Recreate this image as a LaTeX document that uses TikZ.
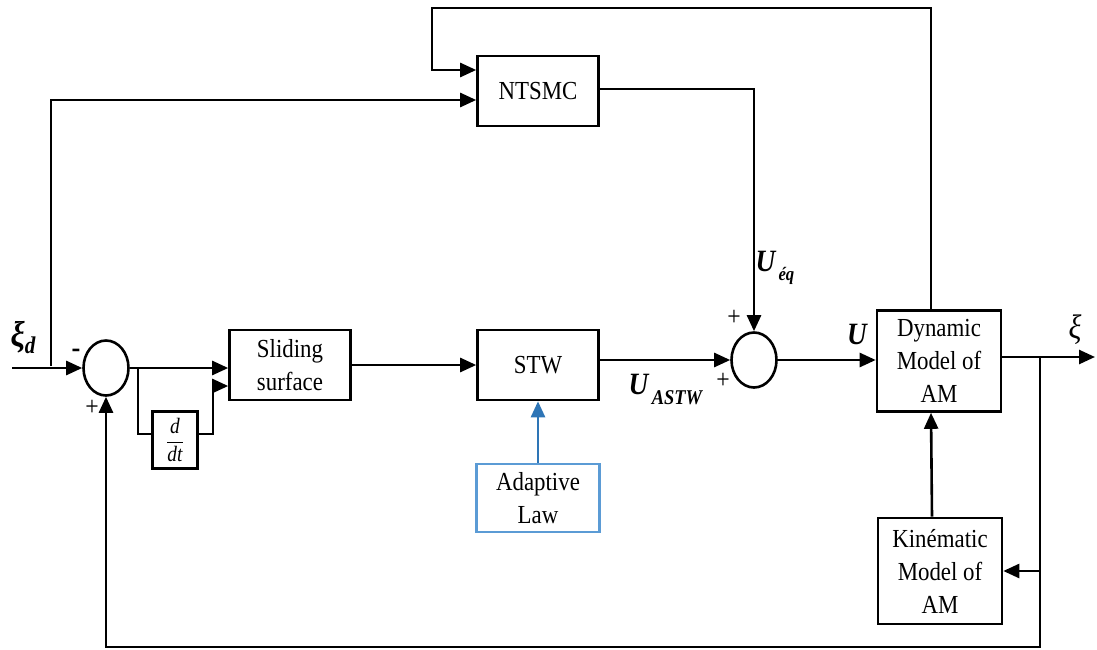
\documentclass[tikz,border=0pt]{standalone}
\usepackage{fontspec}
\setmainfont[FakeStretch=0.88]{Liberation Serif}
\usetikzlibrary{arrows.meta,shapes.geometric}
\definecolor{adblue}{RGB}{46,117,182}
\definecolor{adframe}{RGB}{91,155,213}
\tikzset{
	blok/.style={draw,line width=2.6pt,inner sep=0pt,align=center,font=\fontsize{26}{33}\selectfont},
	somme/.style={draw,ellipse,line width=2.6pt,minimum width=45pt,minimum height=55pt,inner sep=0pt},
	signe/.style={font=\fontsize{27}{27}\selectfont},
	grand/.style={font=\fontsize{31}{31}\selectfont\bfseries\itshape},
}
\begin{document}
\begin{tikzpicture}[x=1pt,y=-1pt,line width=2.6pt,>={Triangle[length=16pt,width=14pt]}]
	%	\draw[help lines] (0,0) grid (1097,650);
	\useasboundingbox (0,0) rectangle (1097,650);
	% blocs
	\node[blok,minimum width=121pt,minimum height=70pt] (ntsmc) at (538,91) {NTSMC};
	\node[blok,minimum width=121pt,minimum height=70pt] (slide) at (290,365) {Sliding\\surface};
	\node[blok,minimum width=121pt,minimum height=70pt] (stw) at (538,365) {STW};
	\node[blok,minimum width=45pt,minimum height=57pt,font=\fontsize{22}{22}\selectfont] (ddt) at (175,440) {$\displaystyle\frac{\textit{d}}{\textit{dt}}$};
	\node[blok,draw=adframe,minimum width=123pt,minimum height=68pt] (adapt) at (538,498) {Adaptive\\Law};
	\node[blok,minimum width=124pt,minimum height=101pt] (dyn) at (939,361) {Dynamic\\Model of\\AM};
	\node[blok,minimum width=124pt,minimum height=106pt] (kin) at (940,571) {Kinématic\\Model of\\AM};
	\node[somme] (s1) at (106,368) {};
	\node[somme] (s2) at (754,360) {};
	% points
	\coordinate (in) at (12,368);
	\coordinate (br0) at (51,366);
	\coordinate (haut) at (432,8);
	\coordinate (br1) at (138,368);
	\coordinate (br2) at (213,386);
	\coordinate (br3) at (1040,357);
	\coordinate (bas) at (1040,647);
	\coordinate (out) at (1095,357);
	% liaisons
	\draw[->] (in) -- (s1.west);
	\draw[->] (br0) |- ([yshift=-9pt]ntsmc.west);
	\draw[->] ([xshift=-8pt]dyn.north) |- (haut) |- ([yshift=21pt]ntsmc.west);
	\draw[->] ([yshift=2pt]ntsmc.east) -| (s2.north);
	\draw[->] (s1.east) -- (s1.east -| slide.west);
	\draw (br1) |- ([yshift=6pt]ddt.west);
	\draw[->] ([yshift=6pt]ddt.east) -| (br2) -- (br2 -| slide.west);
	\draw[->] (slide.east) -- (stw.west);
	\draw[->] (stw.east |- s2.west) -- (s2.west);
	\draw[->,adblue] (adapt.north) -- (stw.south);
	\draw[->] (s2.east) -- (s2.east -| dyn.west);
	\draw[->] (dyn.east |- out) -- (out);
	\draw[->] (br3) -- (bas) -| (s1.south);
	\draw[->] (br3 |- kin.east) -- (kin.east);
	\draw[->] ([xshift=-8pt]kin.north) -- ([xshift=-8pt]dyn.south);
	% textes
	\node[font=\fontsize{36}{36}\selectfont\bfseries\itshape,anchor=west] (xid) at (6,338) {ξ\raisebox{-7pt}{\fontsize{24}{24}\selectfont d}};
	\node[signe,font=\fontsize{30}{30}\selectfont\bfseries] (m1) at (76,353) {-};
	\node[signe] (p1) at (92,408) {+};
	\node[signe] (p2) at (734,318) {+};
	\node[signe] (p3) at (723,381) {+};
	\node[grand,anchor=west] (ueq) at (751,268) {U\raisebox{-9pt}{\fontsize{19}{19}\selectfont\,éq}};
	\node[grand,anchor=west] (uastw) at (624,390) {U\raisebox{-10pt}{\fontsize{21}{21}\selectfont\,ASTW}};
	\node[grand] (u) at (857,334) {U};
	\node[font=\fontsize{34}{34}\selectfont\itshape] (xi) at (1075,330) {ξ};
\end{tikzpicture}
\end{document}
